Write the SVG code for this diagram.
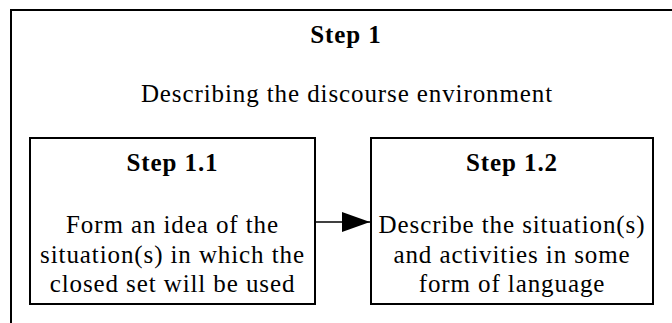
<svg xmlns="http://www.w3.org/2000/svg" width="672" height="323" viewBox="0 0 672 323">
  <style>
    .frame { fill: none; stroke: #000; stroke-width: 2; }
    .title { font-family: "Liberation Serif", "Times New Roman", serif; font-size: 25px; font-weight: bold; letter-spacing: 0.9px; text-anchor: middle; fill: #000; }
    .body { font-family: "Liberation Serif", "Times New Roman", serif; font-size: 25px; letter-spacing: 0.9px; text-anchor: middle; fill: #000; }
    .link { stroke: #000; stroke-width: 1.5; fill: none; }
  </style>
  <defs>
    <marker id="arrowhead" viewBox="0 0 28 20" refX="28" refY="10" markerWidth="28" markerHeight="20" markerUnits="userSpaceOnUse" orient="auto">
      <path d="M0,0 L28,10 L0,20 Z" fill="#000"/>
    </marker>
  </defs>
  <rect width="672" height="323" fill="#fff"/>

  <!-- outer step, running past the right and bottom edges -->
  <g id="step1">
    <rect class="frame" x="11" y="10" width="700" height="400"/>
    <text class="title" x="346" y="43">Step 1</text>
    <text class="body" x="347" y="102">Describing the discourse environment</text>
  </g>

  <g id="step1_1">
    <rect class="frame" x="30" y="138" width="285" height="166"/>
    <text class="title" x="172.5" y="171">Step 1.1</text>
    <text class="body" x="172.5" y="233">Form an idea of the</text>
    <text class="body" x="172.5" y="263">situation(s) in which the</text>
    <text class="body" x="172.5" y="292">closed set will be used</text>
  </g>

  <g id="step1_2">
    <rect class="frame" x="371" y="138" width="282" height="166"/>
    <text class="title" x="512" y="171">Step 1.2</text>
    <text class="body" x="512" y="233">Describe the situation(s)</text>
    <text class="body" x="512" y="263">and activities in some</text>
    <text class="body" x="512" y="292">form of language</text>
  </g>

  <g id="connectors">
    <line class="link" x1="315" y1="222" x2="370" y2="222" marker-end="url(#arrowhead)"/>
  </g>
</svg>
